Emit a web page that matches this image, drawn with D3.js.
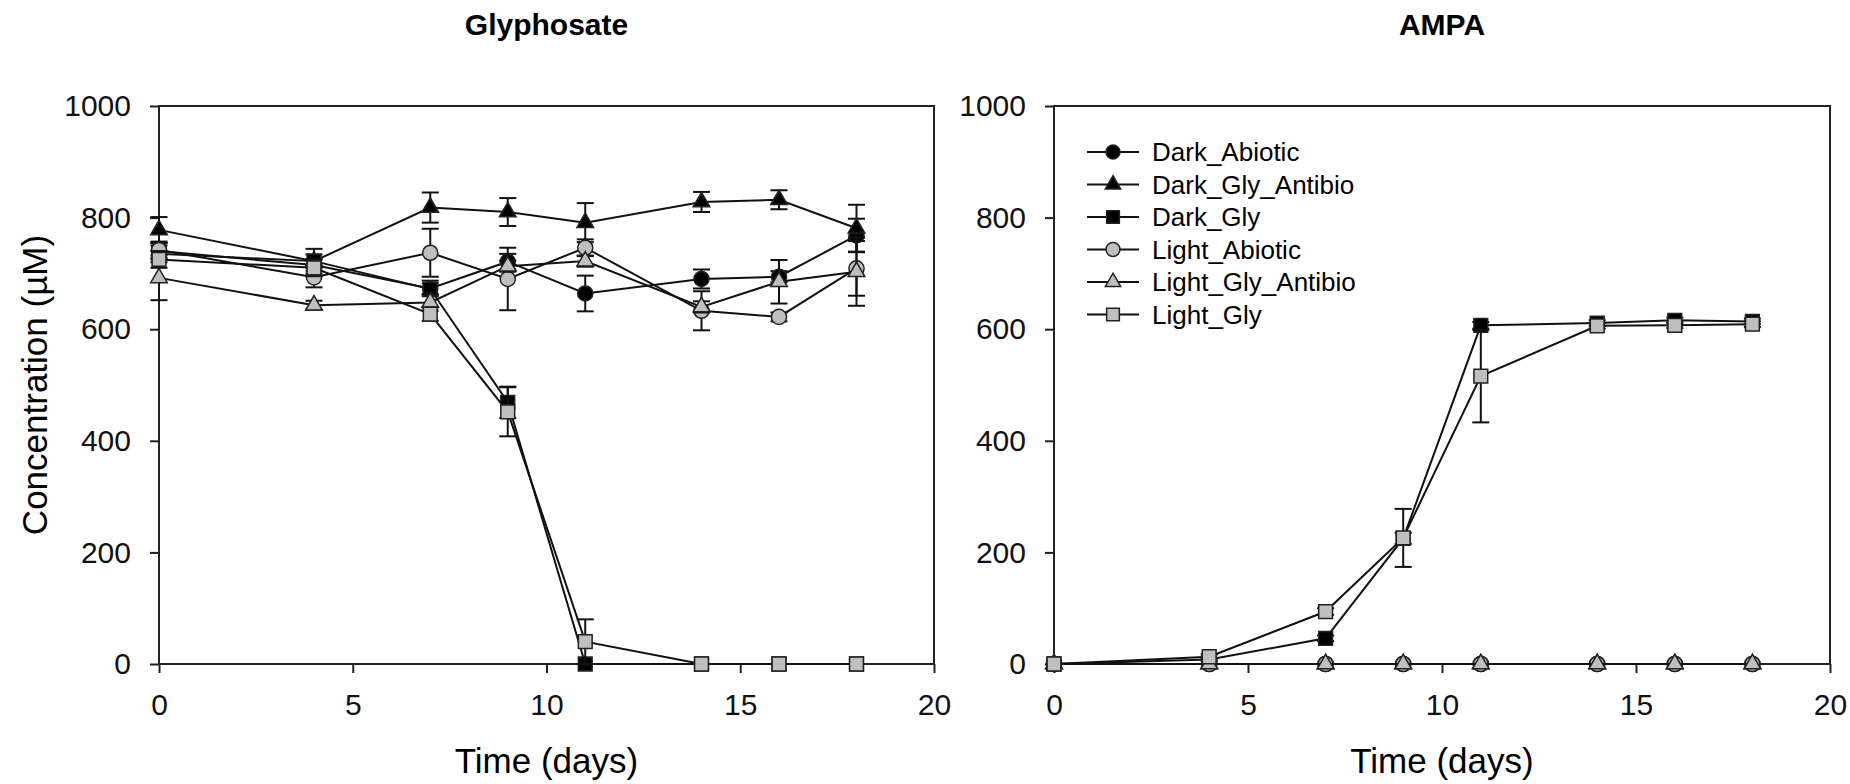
<!DOCTYPE html>
<html>
<head>
<meta charset="utf-8">
<script src="https://cdn.jsdelivr.net/npm/d3@7"></script>
<style>
  body { margin: 0; background: #fff; }
  svg { font-family: "Liberation Sans", Arial, sans-serif; }
</style>
</head>
<body>
<svg id="chart" width="1850" height="784"></svg>
<script>
// sampling days
var days = [0, 4, 7, 9, 11, 14, 16, 18];
var seriesNames = ["Dark_Abiotic", "Dark_Gly_Antibio", "Dark_Gly", "Light_Abiotic", "Light_Gly_Antibio", "Light_Gly"];
var xTicks = [0, 5, 10, 15, 20];
var yTicks = [0, 200, 400, 600, 800, 1000];

// Glyphosate (uM) and error bars
var glyDarkAbiotic = [740, 715, 673, 721, 664, 690, 694, 768];
var glyDarkAbioticErr = [14, 10, 14, 14, 32, 17, 10, 30];
var glyDarkGlyAntibio = [778, 722, 818, 810, 791, 828, 832, 781];
var glyDarkGlyAntibioErr = [23, 12, 27, 25, 35, 18, 17, 42];
var glyDarkGly = [735, 722, 672, 469, 0, 0, 0, 0];
var glyDarkGlyErr = [15, 22, 10, 28, 0, 0, 0, 0];
var glyLightAbiotic = [742, 693, 737, 690, 746, 633, 622, 709];
var glyLightAbioticErr = [15, 18, 43, 56, 15, 35, 8, 49];
var glyLightGlyAntibio = [692, 643, 648, 713, 722, 640, 685, 703];
var glyLightGlyAntibioErr = [40, 8, 15, 10, 10, 10, 39, 61];
var glyLightGly = [725, 710, 627, 452, 40, 0, 0, 0];
var glyLightGlyErr = [15, 15, 12, 44, 40, 0, 0, 0];

// AMPA (uM) and error bars
var ampaDarkAbiotic = [0, 0, 0, 0, 0, 0, 0, 0];
var ampaDarkGlyAntibio = [0, 0, 0, 0, 0, 0, 0, 0];
var ampaDarkGly = [0, 8, 46, 225, 607, 611, 616, 614];
var ampaDarkGlyErr = [0, 3, 5, 10, 6, 5, 5, 5];
var ampaLightAbiotic = [0, 0, 0, 0, 0, 0, 0, 0];
var ampaLightGlyAntibio = [0, 0, 0, 0, 0, 0, 0, 0];
var ampaLightGly = [0, 13, 94, 226, 516, 606, 607, 609];
var ampaLightGlyErr = [0, 4, 6, 52, 83, 5, 5, 5];
var zeroErr = [0, 0, 0, 0, 0, 0, 0, 0];

var shapes = [d3.symbolCircle, d3.symbolTriangle, d3.symbolSquare, d3.symbolCircle, d3.symbolTriangle, d3.symbolSquare];
var fills = ["#000", "#000", "#000", "#bfbfbf", "#bfbfbf", "#bfbfbf"];
var sizes = [180, 120, 190, 180, 120, 190];

var svg = d3.select("#chart");

function panel(left, right, title, values, errors, showYLabel, showLegend) {
  var top = 106, bottom = 664;
  var x = d3.scaleLinear().domain([0, 20]).range([left, right]);
  var y = d3.scaleLinear().domain([0, 1000]).range([bottom, top]);
  var g = svg.append("g");

  // frame
  g.append("rect")
      .attr("x", left).attr("y", top)
      .attr("width", right - left).attr("height", bottom - top)
      .attr("fill", "none").attr("stroke", "#222").attr("stroke-width", 2);

  var xAxis = g.append("g")
      .attr("transform", "translate(0," + bottom + ")")
      .call(d3.axisBottom(x).tickValues(xTicks).tickFormat(d3.format("d"))
          .tickSize(9).tickSizeOuter(0).tickPadding(21));
  var yAxis = g.append("g")
      .attr("transform", "translate(" + left + ",0)")
      .call(d3.axisLeft(y).tickValues(yTicks).tickFormat(d3.format("d"))
          .tickSize(9).tickSizeOuter(0).tickPadding(19));
  [xAxis, yAxis].forEach(function(a) {
    a.select(".domain").remove();
    a.selectAll("line").attr("stroke", "#222").attr("stroke-width", 2);
    a.selectAll("text").attr("fill", "#111").style("font-size", "30px")
        .style("font-family", "'Liberation Sans', Arial, sans-serif");
  });

  g.append("text")
      .attr("x", (left + right) / 2).attr("y", 35)
      .attr("text-anchor", "middle")
      .style("font-size", "30px").style("font-weight", "bold")
      .text(title);

  g.append("text")
      .attr("x", (left + right) / 2).attr("y", 773)
      .attr("text-anchor", "middle")
      .style("font-size", "35px")
      .text("Time (days)");

  if (showYLabel) {
    g.append("text")
        .attr("transform", "translate(47," + ((top + bottom) / 2) + ") rotate(-90)")
        .attr("text-anchor", "middle")
        .style("font-size", "35px")
        .text("Concentration (\u00b5M)");
  }

  var line = d3.line()
      .x(function(d, i) { return x(days[i]); })
      .y(function(d) { return y(d); });

  values.forEach(function(vals, s) {
    var sg = g.append("g");
    sg.append("path")
        .attr("d", line(vals))
        .attr("fill", "none").attr("stroke", "#111").attr("stroke-width", 2);

    var errs = errors[s];
    vals.forEach(function(v, i) {
      var e = errs[i];
      if (!e) return;
      var cx = x(days[i]);
      sg.append("line").attr("x1", cx).attr("x2", cx)
          .attr("y1", y(v - e)).attr("y2", y(v + e))
          .attr("stroke", "#111").attr("stroke-width", 2);
      [v - e, v + e].forEach(function(c) {
        sg.append("line").attr("x1", cx - 8.5).attr("x2", cx + 8.5)
            .attr("y1", y(c)).attr("y2", y(c))
            .attr("stroke", "#111").attr("stroke-width", 2);
      });
    });

    sg.selectAll("path.mark").data(vals).enter().append("path")
        .attr("class", "mark")
        .attr("d", d3.symbol().type(shapes[s]).size(sizes[s]))
        .attr("transform", function(d, i) { return "translate(" + x(days[i]) + "," + y(d) + ")"; })
        .attr("fill", fills[s]).attr("stroke", "#222").attr("stroke-width", 1.5);
  });

  if (showLegend) {
    var lg = g.append("g");
    seriesNames.forEach(function(name, s) {
      var ly = 152 + s * 32.5;
      lg.append("line").attr("x1", left + 33).attr("x2", left + 85)
          .attr("y1", ly).attr("y2", ly)
          .attr("stroke", "#111").attr("stroke-width", 2);
      lg.append("path")
          .attr("d", d3.symbol().type(shapes[s]).size(sizes[s] * 0.85))
          .attr("transform", "translate(" + (left + 59) + "," + ly + ")")
          .attr("fill", fills[s]).attr("stroke", "#222").attr("stroke-width", 1.5);
      lg.append("text")
          .attr("x", left + 98).attr("y", ly)
          .attr("dy", "0.35em")
          .style("font-size", "26px")
          .text(name);
    });
  }
}

panel(159, 934, "Glyphosate",
  [glyDarkAbiotic, glyDarkGlyAntibio, glyDarkGly, glyLightAbiotic, glyLightGlyAntibio, glyLightGly],
  [glyDarkAbioticErr, glyDarkGlyAntibioErr, glyDarkGlyErr, glyLightAbioticErr, glyLightGlyAntibioErr, glyLightGlyErr],
  true, false);

panel(1054, 1830, "AMPA",
  [ampaDarkAbiotic, ampaDarkGlyAntibio, ampaDarkGly, ampaLightAbiotic, ampaLightGlyAntibio, ampaLightGly],
  [zeroErr, zeroErr, ampaDarkGlyErr, zeroErr, zeroErr, ampaLightGlyErr],
  false, true);
</script>
</body>
</html>
